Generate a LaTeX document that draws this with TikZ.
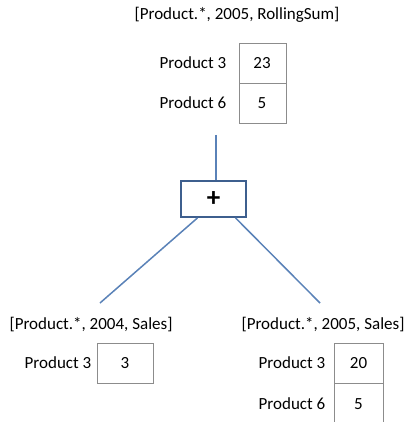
\documentclass[tikz,border=0pt]{standalone}
\usepackage{fontspec}
\setmainfont{Carlito}
\definecolor{linkblue}{HTML}{5A82B8}
\definecolor{opblue}{HTML}{3E5F8E}
\definecolor{cellgray}{HTML}{8C8C8C}
\begin{document}
\begin{tikzpicture}[x=1pt,y=-1pt,
  lbl/.style={font=\fontsize{17}{19}\selectfont, inner sep=0pt, anchor=center},
  cell/.style={draw=cellgray, line width=0.8pt},
  link/.style={draw=linkblue, line width=1.5pt},
  opbox/.style={draw=opblue, line width=1.8pt, fill=white, minimum width=65pt, minimum height=36pt, inner sep=0pt, font=\fontsize{27}{29}\selectfont\bfseries}]
\clip (0,0) rectangle (406,422);
\fill[white] (0,0) rectangle (406,422);
% top
\node[lbl] (ttop) at (237,15) {[Product.*, 2005, RollingSum]};
\draw[cell] (239,43) rectangle (286,123);
\draw[cell] (239,83) -- (286,83);
\node[lbl] (t23) at (262,63) {23};
\node[lbl] (t5) at (262,103) {5};
\node[lbl] (tp3) at (193,63) {Product 3};
\node[lbl] (tp6) at (193,103) {Product 6};
\coordinate (topend) at (216,135);
% operator
\node[opbox] (plus) at (213.5,199) {+};
\draw[link] (topend) -- (plus.north -| topend);
\coordinate (lend) at (100,303);
\coordinate (rend) at (320,303);
\draw[link] ([xshift=-16pt]plus.south) -- (lend);
\draw[link] ([xshift=22pt]plus.south) -- (rend);
% bottom left
\node[lbl] (tl) at (91,325) {[Product.*, 2004, Sales]};
\draw[cell] (97,343) rectangle (153,383);
\node[lbl] (l3) at (125,363) {3};
\node[lbl] (lp3) at (58,363) {Product 3};
% bottom right
\node[lbl] (tr) at (323,325) {[Product.*, 2005, Sales]};
\draw[cell] (334,343) rectangle (383,426);
\draw[cell] (334,383) -- (383,383);
\node[lbl] (r20) at (358.5,363) {20};
\node[lbl] (r5) at (358.5,404) {5};
\node[lbl] (rp3) at (292,363) {Product 3};
\node[lbl] (rp6) at (292,404) {Product 6};
\end{tikzpicture}
\end{document}
